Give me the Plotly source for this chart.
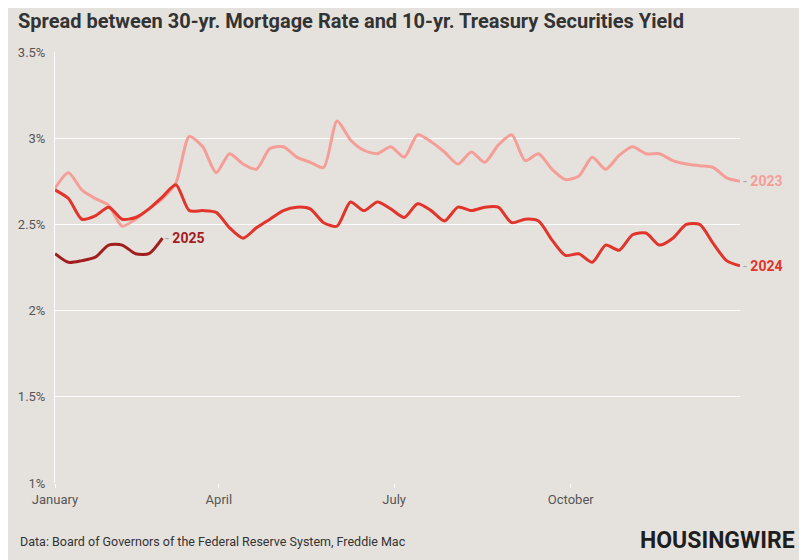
import plotly.graph_objects as go

weeks = list(range(52))

spread_2023 = [2.71, 2.80, 2.70, 2.65, 2.61, 2.49, 2.53, 2.59, 2.65, 2.74,
               3.01, 2.95, 2.80, 2.91, 2.85, 2.82, 2.94, 2.95, 2.89, 2.86,
               2.83, 3.10, 2.99, 2.93, 2.91, 2.95, 2.89, 3.02, 2.98, 2.92,
               2.85, 2.92, 2.86, 2.96, 3.02, 2.87, 2.91, 2.82, 2.76, 2.78,
               2.89, 2.82, 2.90, 2.95, 2.91, 2.91, 2.87, 2.85, 2.84, 2.83,
               2.77, 2.75]

spread_2024 = [2.70, 2.65, 2.53, 2.55, 2.60, 2.53, 2.54, 2.59, 2.66, 2.73,
               2.58, 2.58, 2.57, 2.48, 2.42, 2.48, 2.53, 2.58, 2.60, 2.59,
               2.51, 2.49, 2.63, 2.58, 2.63, 2.59, 2.54, 2.62, 2.58, 2.52,
               2.60, 2.58, 2.60, 2.60, 2.51, 2.53, 2.52, 2.41, 2.32, 2.33,
               2.28, 2.38, 2.35, 2.44, 2.45, 2.38, 2.42, 2.50, 2.50, 2.39,
               2.29, 2.26]

spread_2025 = [2.33, 2.28, 2.29, 2.31, 2.38, 2.38, 2.33, 2.33, 2.42]

month_ticks = [0, 12.2, 25.25, 38.4]
month_labels = ["January", "April", "July", "October"]
y_ticks = [1, 1.5, 2, 2.5, 3, 3.5]
y_labels = ["1%", "1.5%", "2%", "2.5%", "3%", "3.5%"]

series = [
    ("2023", spread_2023, "#f59d97"),
    ("2024", spread_2024, "#e1342b"),
    ("2025", spread_2025, "#a21d1e"),
]

FONT = "Roboto, sans-serif"
BG = "#e5e2de"

fig = go.Figure()
for name, vals, col in series:
    xs = weeks[:len(vals)]
    fig.add_trace(go.Scatter(
        x=xs, y=vals, mode="lines", name=name,
        line=dict(color=col, width=3, shape="spline", smoothing=0.7),
        hoverinfo="skip", showlegend=False,
    ))
    fig.add_annotation(
        x=xs[-1], y=vals[-1], xref="x", yref="y",
        text=f"<span style='color:#a8a8a8'>-</span> <b>{name}</b>",
        showarrow=False, xanchor="left", yanchor="middle", xshift=1,
        font=dict(family=FONT, size=14, color=col),
    )

# page body adds an 8px offset, so the figure is 8px smaller than the window
fig.update_layout(
    width=799, height=552,
    paper_bgcolor=BG, plot_bgcolor=BG,
    margin=dict(l=47, r=67, t=44, b=77, autoexpand=False),
    font=dict(family=FONT, color="#555555"),
    title=dict(
        text="<b>Spread between 30-yr. Mortgage Rate and 10-yr. Treasury Securities Yield</b>",
        x=0.0125, xanchor="left", y=0.989, yanchor="top", pad=dict(t=0, b=0, l=0, r=0),
        font=dict(family=FONT, size=20, color="#333333"),
    ),
    xaxis=dict(
        range=[0, 51], tickvals=month_ticks, ticktext=month_labels,
        showgrid=False, zeroline=False, showline=False, automargin=False,
        ticks="outside", ticklen=4, tickcolor="#ffffff", tickwidth=1,
        tickfont=dict(family=FONT, size=13, color="#555555"),
    ),
    yaxis=dict(
        range=[1, 3.5], tickvals=y_ticks, ticktext=y_labels,
        showgrid=True, gridcolor="#ffffff", gridwidth=1, automargin=False,
        zeroline=False, showline=True, linecolor="#ffffff", linewidth=1,
        ticks="", ticklabelstandoff=6,
        tickfont=dict(family=FONT, size=13, color="#555555"),
    ),
)

fig.add_annotation(
    x=-0.054, y=-0.1346, xref="paper", yref="paper", xanchor="left", yanchor="middle",
    text="Data: Board of Governors of the Federal Reserve System, Freddie Mac",
    showarrow=False, font=dict(family=FONT, size=12.5, color="#333333"),
)
fig.add_annotation(
    x=1.083, y=-0.1323, xref="paper", yref="paper", xanchor="right", yanchor="middle",
    text="<b>HOUSINGWIRE</b>",
    showarrow=False, font=dict(family=FONT, size=23, color="#1e1e1e"),
)

fig.write_html("out.html")
